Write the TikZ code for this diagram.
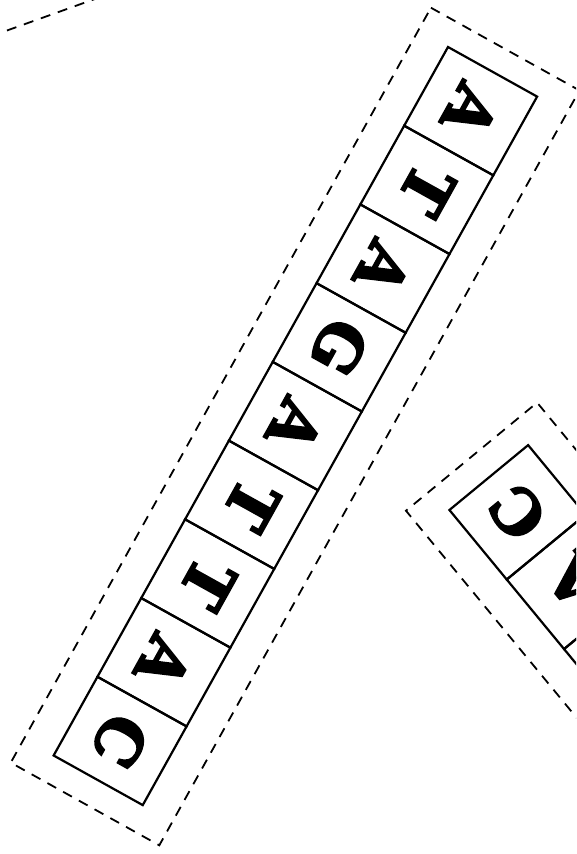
\documentclass[tikz,border=0pt]{standalone}
\usepackage{fontspec}
\newfontfamily\basefont{DejaVu Serif Bold}[FakeBold=3]
\begin{document}
\begin{tikzpicture}[x=1pt,y=1pt,
    cell/.style={draw,line width=2.2pt,minimum width=90.1pt,minimum height=102pt,inner sep=0pt,transform shape,font={\basefont\fontsize{62}{62}\selectfont}},
    frame/.style={line width=1.8pt,dash pattern=on 10pt off 8pt}]
  \useasboundingbox (0,0) rectangle (576,854);
  \clip (0,0) rectangle (576,854);
  % two copies of the strand, one runs off the right edge
  \foreach \ang/\px/\py/\s in {-119.1/448/807/a,129.5/1043.9/-216.8/b}{
    \begin{scope}[shift={(\px,\py)},rotate=\ang]
      \draw[frame] (-26,-34) rectangle (838,136);
      \foreach \ch [count=\i from 0] in {A,T,A,G,A,T,T,A,C}
        \node[cell] (\s\i) at ({(\i+0.5)*90.1},51) {\ch};
    \end{scope}
  }
  % edge of a third frame, top left
  \coordinate (ea) at (-10,817.4);
  \coordinate (eb) at (120,864);
  \draw[frame] (ea) -- (eb);
\end{tikzpicture}
\end{document}
